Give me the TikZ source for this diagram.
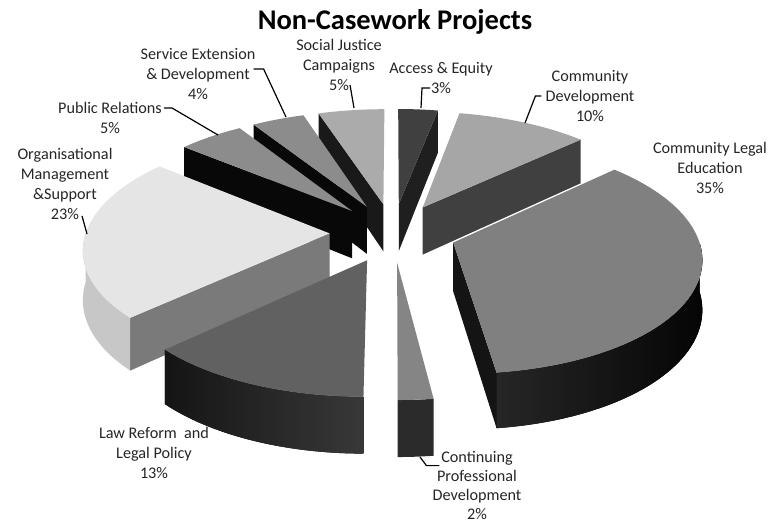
\documentclass[tikz,border=0pt]{standalone}
\usepackage{fontspec}
\setmainfont{Carlito}
\usetikzlibrary{calc}

% faces of one exploded slice (angles clockwise from the back, mu = explode direction)
\newcommand{\topface}[4]{%
  \fill[#4] ({sx(0,0,#3)},{sy(0,0,0,#3)}) -- plot[domain=#1:#2,samples=40] ({sx(1,\x,#3)},{sy(1,\x,0,#3)}) -- cycle;}
\newcommand{\rimface}[4]{%
  \fill[#4] plot[domain=#1:#2,samples=40] ({sx(1,\x,#3)},{sy(1,\x,0,#3)}) -- plot[domain=#2:#1,samples=40] ({sx(1,\x,#3)},{sy(1,\x,1,#3)}) -- cycle;}
\newcommand{\cutface}[3]{%
  \fill[#3] ({sx(0,0,#2)},{sy(0,0,0,#2)}) -- ({sx(1,#1,#2)},{sy(1,#1,0,#2)}) -- ({sx(1,#1,#2)},{sy(1,#1,1,#2)}) -- ({sx(0,0,#2)},{sy(0,0,1,#2)}) -- cycle;}

\tikzset{
  lbl/.style={align=center, font=\fontsize{16.2}{20}\selectfont, text=black!85, inner sep=0pt},
  leader/.style={black, line width=1.2pt},
}

\begin{document}
\begin{tikzpicture}[x=1pt,y=-1pt,
  declare function={
    gx(\r,\t,\m)=\r*sin(\t)+0.26*sin(\m);
    gy(\r,\t,\m)=\r*cos(\t)+0.26*cos(\m);
    sx(\r,\t,\m)=393+243.7*gx(\r,\t,\m)/(1+0.12*gy(\r,\t,\m));
    sy(\r,\t,\z,\m)=232.5+(-112.9*gy(\r,\t,\m)+48.4*\z)/(1+0.12*gy(\r,\t,\m));
  }]
\fill[white] (0,0) rectangle (768,523);
\useasboundingbox (0,0) rectangle (768,523);

% Title
\node[font=\fontsize{28.5}{32}\selectfont\bfseries] (title) at (395,22) {Non-Casework Projects};

% Slices, back to front
% Access & Equity
\cutface{10.8}{5.4}{black!88}
\topface{0}{10.8}{5.4}{black!75}
% Social Justice Campaigns
\cutface{342}{351}{black!90}
\topface{342}{360}{351}{black!33}
% Service Extension & Development
\cutface{327.6}{334.8}{black!97}
\topface{327.6}{342}{334.8}{black!45}
% Community Development
\cutface{46.8}{28.8}{black!75}
\topface{10.8}{46.8}{28.8}{black!35}
% Public Relations
\cutface{309.6}{318.6}{black!97}
\topface{309.6}{327.6}{318.6}{black!45}
% Organisational Management & Support
\cutface{226.8}{268.2}{black!52}
\rimface{226.8}{270}{268.2}{black!22}
\topface{226.8}{309.6}{268.2}{black!10}
% Community Legal Education
\rimface{90}{172.8}{109.8}{left color=black!85, right color=black!98}
\cutface{172.8}{109.8}{black!92}
\topface{46.8}{172.8}{109.8}{black!50}
% Law Reform and Legal Policy
\rimface{180}{226.8}{203.4}{left color=black!92, right color=black!78}
\topface{180}{226.8}{203.4}{black!62}
% Continuing Professional Development
\rimface{172.8}{180}{176.4}{black!83}
\topface{172.8}{180}{176.4}{black!48}

% Labels
\node[lbl] (sj) at (339,65) {Social Justice\\Campaigns\\5\%};
\node[lbl] (se) at (198,74) {Service Extension\\\& Development\\4\%};
\node[lbl] (pr) at (110,118) {Public Relations\\5\%};
\node[lbl] (om) at (65,184) {Organisational\\Management\\\&Support\\23\%};
\node[lbl] (ae) at (441,78) {Access \& Equity\\3\%};
\node[lbl] (cd) at (590,96) {Community\\Development\\10\%};
\node[lbl] (cle) at (710,168) {Community Legal\\Education\\35\%};
\node[lbl, font=\fontsize{16.2}{19}\selectfont] (cpd) at (477,485) {Continuing\\Professional\\Development\\2\%};
\node[lbl] (lr) at (154,453) {Law Reform~~and\\Legal Policy\\13\%};

% Leader lines
\coordinate (sjend) at (354,108);
\coordinate (seend) at (286,117);
\coordinate (prend) at (218,135);
\coordinate (omend) at (87,234);
\coordinate (aeend) at (421,108);
\coordinate (cdend) at (525,123);
\coordinate (cpdend) at (420,457);
\draw[leader] ([xshift=11pt,yshift=6pt]sj.south) -- (sjend);
\draw[leader] ([xshift=-2pt,yshift=5pt]se.east) -- ++(10,0) -- (seend);
\draw[leader] ([xshift=2pt,yshift=10pt]pr.east) -- ++(8,0) -- (prend);
\draw[leader] ([xshift=17pt,yshift=4pt]om.south) -- (omend);
\draw[leader] ([xshift=-11pt,yshift=-10pt]ae.center) -- ++(-8,0) -- (aeend);
\draw[leader] ([xshift=-4pt]cd.west) -- ++(-6,0) -- (cdend);
\draw[leader] ([xshift=7pt,yshift=-15pt]cpd.north west) -- ++(-13,0) -- (cpdend);
\end{tikzpicture}
\end{document}
